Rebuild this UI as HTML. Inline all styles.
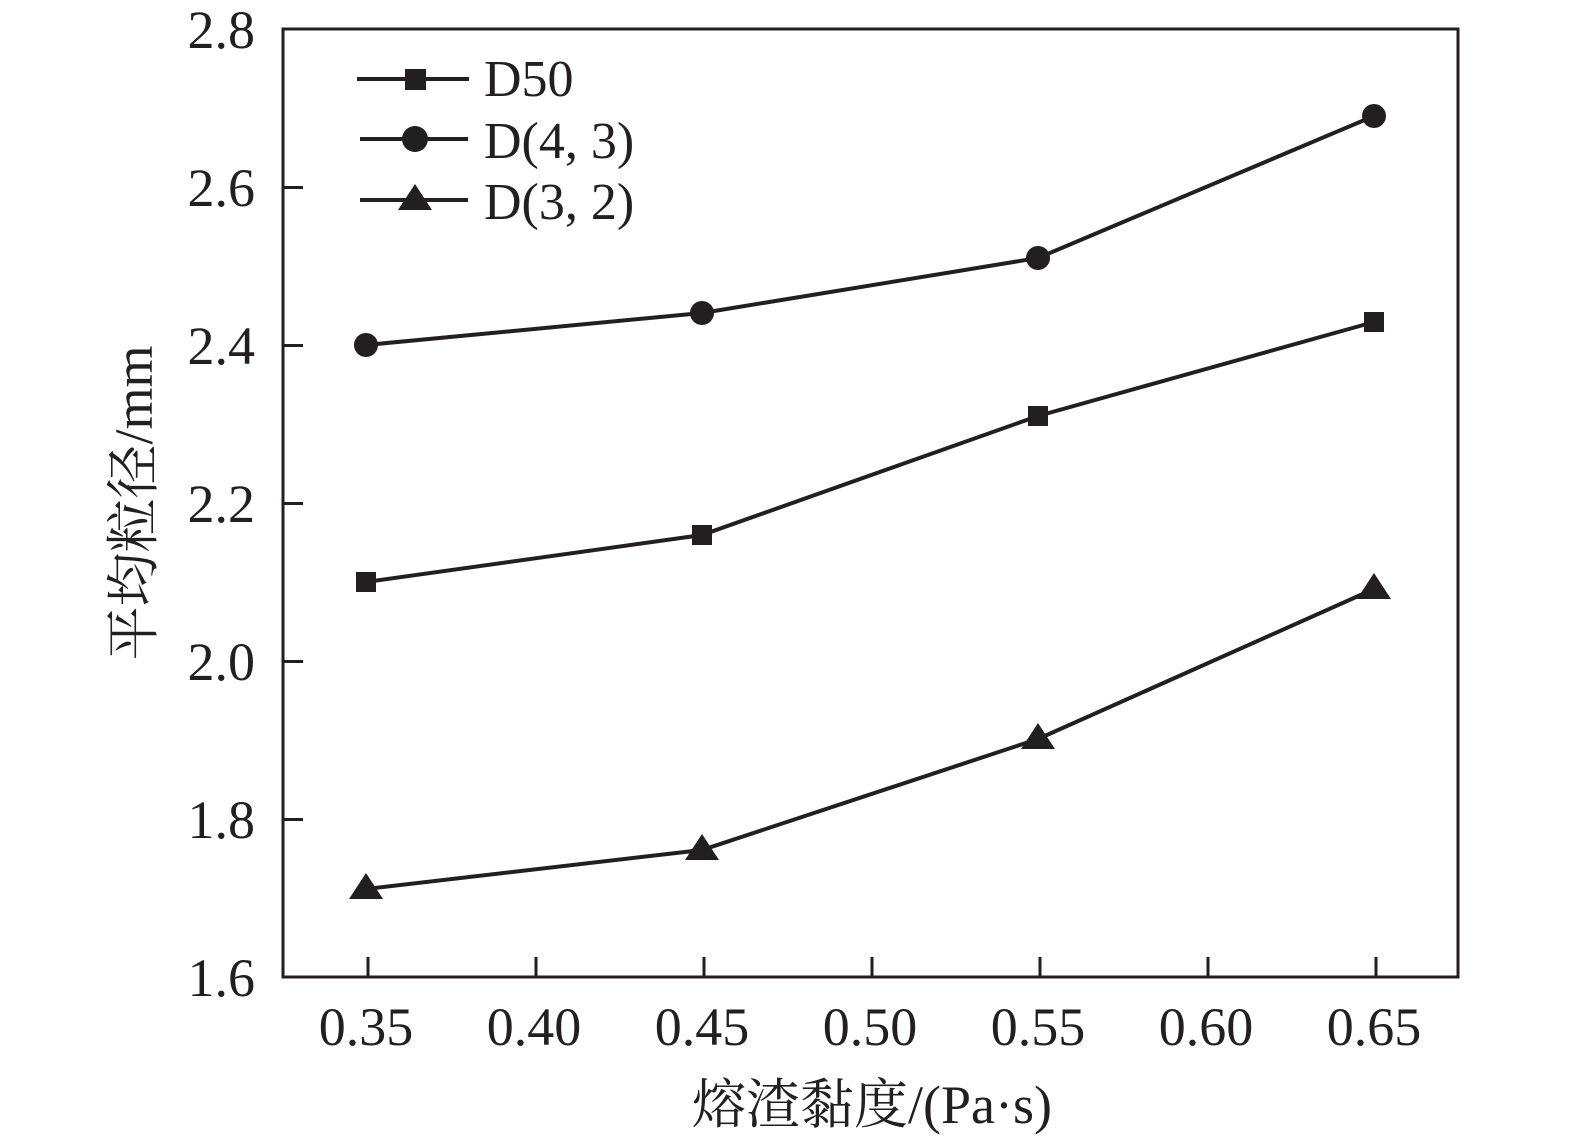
<!DOCTYPE html>
<html><head><meta charset="utf-8"><style>
html,body{margin:0;padding:0;background:#fff;}
svg{display:block;}
text{font-family:"Liberation Serif","Noto Serif CJK SC",serif;fill:#231f20;}
</style></head><body>
<svg width="1575" height="1144" viewBox="0 0 1575 1144" xmlns="http://www.w3.org/2000/svg">
<g stroke="#231f20" stroke-width="3" fill="none">
<rect x="283" y="29" width="1175" height="948"/>
<!-- y ticks -->
<path d="M283 187.5h20M283 345.5h20M283 503.5h20M283 661.5h20M283 819.5h20"/>
<!-- x ticks -->
<path d="M368 977v-20M536 977v-20M704 977v-20M872 977v-20M1040 977v-20M1208 977v-20M1376 977v-20"/>
</g>
<g font-size="54" text-anchor="end">
<text x="255" y="48">2.8</text>
<text x="255" y="206">2.6</text>
<text x="255" y="364">2.4</text>
<text x="255" y="522">2.2</text>
<text x="255" y="680">2.0</text>
<text x="255" y="838">1.8</text>
<text x="255" y="996">1.6</text>
</g>
<g font-size="54" text-anchor="middle">
<text x="366" y="1045">0.35</text>
<text x="534" y="1045">0.40</text>
<text x="702" y="1045">0.45</text>
<text x="870" y="1045">0.50</text>
<text x="1038" y="1045">0.55</text>
<text x="1206" y="1045">0.60</text>
<text x="1374" y="1045">0.65</text>
<text x="872" y="1123">熔渣黏度/(Pa·s)</text>
<text transform="translate(152,503) rotate(-90)">平均粒径/mm</text>
</g>
<g stroke="#231f20" stroke-width="4" fill="none">
<polyline points="366,582 702,535 1038,416 1374,322"/>
<polyline points="366,345 702,313 1038,258 1374,116"/>
<polyline points="366,889 702,850 1038,739 1374,589"/>
<path d="M357 79h112M360 139h108M360 200h108"/>
</g>
<g fill="#231f20">
<rect x="356" y="572" width="20" height="20"/><rect x="692" y="525" width="20" height="20"/><rect x="1028" y="406" width="20" height="20"/><rect x="1364" y="312" width="20" height="20"/>
<circle cx="366" cy="345" r="12"/><circle cx="702" cy="313" r="12"/><circle cx="1038" cy="258" r="12"/><circle cx="1374" cy="116" r="12"/>
<path d="M366 873l17 26h-34z"/><path d="M702 834l17 26h-34z"/><path d="M1038 723l17 26h-34z"/><path d="M1374 573l17 26h-34z"/>
<rect x="405" y="69" width="21" height="21"/>
<circle cx="415" cy="139" r="13"/>
<path d="M415 184l17 26h-34z"/>
</g>
<g font-size="52">
<text x="484" y="96">D50</text>
<text x="484" y="158">D(4, 3)</text>
<text x="484" y="219">D(3, 2)</text>
</g>
</svg>
</body></html>
